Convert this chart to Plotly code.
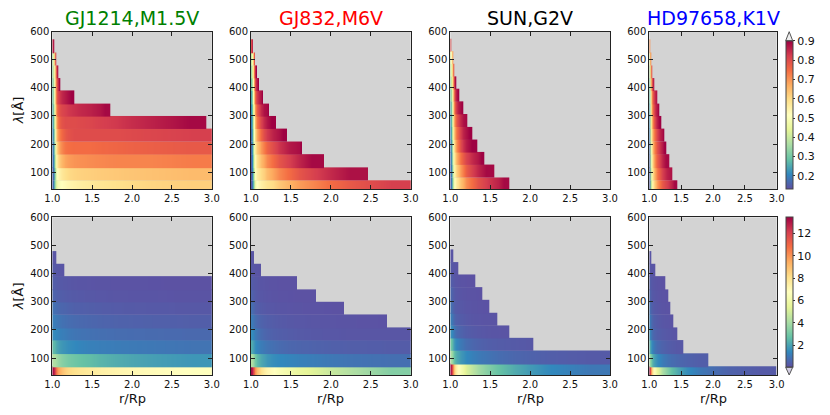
import plotly.graph_objects as go

# ---------------- data ----------------
R_KNOTS = [1.0, 1.01, 1.02, 1.035, 1.05, 1.08, 1.12, 1.2, 1.35, 1.6, 2.0, 2.5, 3.0]

EDGES_M = [40, 71, 117, 164, 209, 255, 300, 344, 391, 435, 480, 526, 573]
EDGES_SUN = [40, 81, 127, 172, 216, 261, 307, 352, 397, 441, 486, 531, 575]

STARS = ["GJ1214,M1.5V", "GJ832,M6V", "SUN,G2V", "HD97658,K1V"]
STAR_COLORS = ["#008000", "#ff0000", "#000000", "#0000ff"]
STAR_EDGES = [EDGES_M, EDGES_M, EDGES_SUN, EDGES_M]

# ---- top row (fraction, 0.13-0.9) : extent in r/Rp per wavelength band, values per r-cell
TOP_RMAX_GJ1214 = [3.0, 3.0, 3.0, 3.0, 3.0, 2.93, 1.727, 1.277, 1.105, 1.08, 1.05, 1.025]
TOP_VAL_GJ1214 = [
    [0.15, 0.25, 0.35, 0.42, 0.48, 0.51, 0.53, 0.55, 0.57, 0.59, 0.61, 0.62],
    [0.15, 0.22, 0.33, 0.45, 0.52, 0.56, 0.59, 0.61, 0.62, 0.63, 0.64, 0.65],
    [0.17, 0.25, 0.38, 0.50, 0.58, 0.64, 0.68, 0.70, 0.71, 0.72, 0.72, 0.73],
    [0.18, 0.27, 0.42, 0.55, 0.63, 0.70, 0.74, 0.75, 0.75, 0.76, 0.77, 0.78],
    [0.20, 0.30, 0.45, 0.60, 0.68, 0.74, 0.78, 0.80, 0.80, 0.80, 0.81, 0.82],
    [0.22, 0.35, 0.50, 0.63, 0.72, 0.78, 0.80, 0.80, 0.81, 0.83, 0.86, 0.89],
    [0.25, 0.40, 0.55, 0.68, 0.76, 0.80, 0.82, 0.84, 0.86, 0.89],
    [0.28, 0.45, 0.60, 0.72, 0.80, 0.84, 0.87, 0.90],
    [0.30, 0.45, 0.60, 0.72, 0.82, 0.90],
    [0.35, 0.48, 0.62, 0.75, 0.88],
    [0.38, 0.55, 0.75, 0.88],
    [0.85, 0.90, 0.90],
]
TOP_RMAX_GJ832 = [3.0, 2.461, 1.919, 1.643, 1.45, 1.317, 1.225, 1.155, 1.096, 1.07, 1.054, 1.02]
TOP_VAL_GJ832 = [
    [0.15, 0.22, 0.32, 0.42, 0.50, 0.54, 0.57, 0.60, 0.66, 0.72, 0.78, 0.82],
    [0.15, 0.24, 0.36, 0.47, 0.54, 0.58, 0.62, 0.68, 0.75, 0.82, 0.88],
    [0.16, 0.26, 0.40, 0.50, 0.56, 0.62, 0.68, 0.75, 0.82, 0.89],
    [0.17, 0.28, 0.42, 0.53, 0.60, 0.66, 0.73, 0.80, 0.87, 0.90],
    [0.18, 0.30, 0.45, 0.56, 0.64, 0.72, 0.80, 0.86, 0.90],
    [0.20, 0.32, 0.48, 0.60, 0.70, 0.78, 0.85, 0.90],
    [0.22, 0.35, 0.52, 0.65, 0.74, 0.82, 0.88, 0.90],
    [0.25, 0.40, 0.58, 0.70, 0.80, 0.86, 0.90],
    [0.30, 0.45, 0.62, 0.75, 0.85, 0.90],
    [0.35, 0.50, 0.68, 0.80, 0.90],
    [0.40, 0.55, 0.72, 0.85, 0.90],
    [0.80, 0.90],
]
TOP_RMAX_SUN = [1.743, 1.547, 1.426, 1.342, 1.271, 1.213, 1.163, 1.117, 1.075, 1.054, 1.042, 1.017]
TOP_VAL_SUN = [
    [0.15, 0.25, 0.38, 0.48, 0.54, 0.60, 0.67, 0.75, 0.83, 0.89],
    [0.16, 0.27, 0.42, 0.52, 0.58, 0.65, 0.73, 0.82, 0.89],
    [0.17, 0.30, 0.45, 0.55, 0.62, 0.70, 0.78, 0.85, 0.90],
    [0.18, 0.32, 0.48, 0.58, 0.66, 0.75, 0.84, 0.90],
    [0.20, 0.35, 0.52, 0.62, 0.70, 0.78, 0.86, 0.90],
    [0.22, 0.38, 0.55, 0.66, 0.74, 0.82, 0.88, 0.90],
    [0.25, 0.42, 0.58, 0.70, 0.80, 0.87, 0.90],
    [0.30, 0.46, 0.62, 0.74, 0.84, 0.90],
    [0.35, 0.52, 0.68, 0.80, 0.90],
    [0.40, 0.56, 0.72, 0.84, 0.90],
    [0.45, 0.60, 0.78, 0.90],
    [0.80, 0.90],
]
TOP_RMAX_HD97658 = [1.445, 1.361, 1.309, 1.272, 1.236, 1.194, 1.157, 1.126, 1.084, 1.052, 1.031, 1.021]
TOP_VAL_HD97658 = [
    [0.15, 0.25, 0.38, 0.50, 0.58, 0.66, 0.74, 0.82, 0.89],
    [0.16, 0.28, 0.42, 0.54, 0.62, 0.70, 0.78, 0.86, 0.90],
    [0.17, 0.30, 0.45, 0.56, 0.65, 0.74, 0.82, 0.89],
    [0.18, 0.32, 0.48, 0.58, 0.68, 0.76, 0.84, 0.90],
    [0.20, 0.35, 0.50, 0.62, 0.70, 0.78, 0.86, 0.90],
    [0.22, 0.38, 0.54, 0.65, 0.75, 0.84, 0.90],
    [0.25, 0.42, 0.58, 0.70, 0.78, 0.86, 0.90],
    [0.28, 0.45, 0.60, 0.72, 0.80, 0.87, 0.90],
    [0.32, 0.50, 0.66, 0.78, 0.87, 0.90],
    [0.38, 0.55, 0.72, 0.86, 0.90],
    [0.45, 0.62, 0.80, 0.90],
    [0.70, 0.85, 0.90],
]

# ---- bottom row (0-13.4)
BOT_RMAX_GJ1214 = [3.0, 3.0, 3.0, 3.0, 3.0, 3.0, 3.0, 3.0, 1.155, 1.054]
BOT_VAL_GJ1214 = [
    [13.2, 12.8, 12.0, 11.0, 10.0, 9.2, 8.5, 8.0, 7.6, 7.2, 6.9, 6.7],
    [4.2, 4.2, 4.1, 4.0, 3.8, 3.5, 3.2, 2.9, 2.6, 2.2, 1.9, 1.7],
    [2.6, 2.5, 2.4, 2.2, 2.0, 1.8, 1.6, 1.4, 1.2, 1.1, 1.0, 0.9],
    [1.5, 1.45, 1.4, 1.35, 1.3, 1.2, 1.1, 0.95, 0.85, 0.75, 0.7, 0.65],
    [1.2, 1.15, 1.1, 1.05, 1.0, 0.9, 0.8, 0.7, 0.6, 0.5, 0.45, 0.4],
    [0.9, 0.85, 0.8, 0.75, 0.7, 0.6, 0.55, 0.45, 0.4, 0.32, 0.28, 0.25],
    [0.6, 0.55, 0.5, 0.48, 0.45, 0.4, 0.35, 0.3, 0.25, 0.2, 0.18, 0.15],
    [0.4, 0.38, 0.36, 0.34, 0.3, 0.28, 0.25, 0.2, 0.17, 0.14, 0.12, 0.1],
    [0.3, 0.28, 0.26, 0.24, 0.22, 0.2, 0.18],
    [0.2, 0.2, 0.19, 0.18, 0.17],
]
BOT_RMAX_GJ832 = [3.0, 3.0, 3.0, 3.0, 2.708, 2.169, 1.81, 1.576, 1.12, 1.042]
BOT_VAL_GJ832 = [
    [13.2, 12.5, 11.5, 10.5, 9.5, 8.5, 7.5, 6.8, 6.0, 5.2, 4.2, 3.3],
    [4.2, 4.0, 3.6, 3.2, 2.8, 2.3, 1.9, 1.5, 1.3, 1.1, 0.9, 0.8],
    [2.2, 2.0, 1.8, 1.6, 1.4, 1.2, 1.0, 0.8, 0.6, 0.5, 0.4, 0.35],
    [1.5, 1.4, 1.3, 1.1, 1.0, 0.8, 0.6, 0.45, 0.35, 0.25, 0.2, 0.2],
    [1.1, 1.0, 0.9, 0.8, 0.7, 0.55, 0.45, 0.35, 0.25, 0.2, 0.15, 0.12],
    [0.8, 0.7, 0.6, 0.5, 0.42, 0.35, 0.28, 0.22, 0.17, 0.13, 0.1],
    [0.5, 0.45, 0.4, 0.35, 0.3, 0.25, 0.2, 0.16, 0.12, 0.1],
    [0.35, 0.32, 0.3, 0.27, 0.24, 0.2, 0.17, 0.13, 0.1],
    [0.25, 0.23, 0.21, 0.2, 0.18, 0.16],
    [0.2, 0.2, 0.18, 0.16],
]
BOT_RMAX_SUN = [3.0, 3.0, 2.04, 1.735, 1.589, 1.484, 1.397, 1.313, 1.096, 1.042]
BOT_VAL_SUN = [
    [13.2, 12.0, 10.5, 9.0, 7.8, 6.8, 5.8, 4.5, 3.3, 2.2, 1.4, 1.0],
    [4.2, 3.8, 3.3, 2.8, 2.4, 2.0, 1.6, 1.2, 0.9, 0.6, 0.4, 0.3],
    [3.0, 2.6, 2.2, 1.8, 1.5, 1.2, 0.9, 0.6, 0.4, 0.3, 0.2],
    [1.6, 1.4, 1.2, 1.0, 0.8, 0.6, 0.45, 0.3, 0.2, 0.15],
    [1.2, 1.0, 0.8, 0.65, 0.5, 0.4, 0.3, 0.2, 0.15],
    [0.9, 0.7, 0.55, 0.45, 0.35, 0.28, 0.22, 0.16, 0.12],
    [0.6, 0.5, 0.4, 0.32, 0.26, 0.2, 0.16, 0.13, 0.1],
    [0.4, 0.35, 0.3, 0.25, 0.2, 0.16, 0.13, 0.1],
    [0.3, 0.25, 0.22, 0.2, 0.18, 0.16],
    [0.2, 0.2, 0.18, 0.16],
]
BOT_RMAX_HD97658 = [3.0, 1.927, 1.534, 1.445, 1.372, 1.335, 1.298, 1.251, 1.1, 1.031]
BOT_VAL_HD97658 = [
    [13.2, 11.8, 10.0, 8.5, 7.2, 6.0, 4.8, 3.4, 2.0, 1.0, 0.5, 0.3],
    [4.0, 3.6, 3.1, 2.6, 2.1, 1.7, 1.3, 0.9, 0.6, 0.4],
    [2.5, 2.1, 1.7, 1.4, 1.1, 0.8, 0.6, 0.4, 0.25],
    [1.6, 1.3, 1.0, 0.8, 0.6, 0.45, 0.35, 0.25, 0.18],
    [1.2, 1.0, 0.8, 0.6, 0.45, 0.35, 0.25, 0.18, 0.14],
    [0.9, 0.7, 0.55, 0.42, 0.32, 0.25, 0.18, 0.14],
    [0.6, 0.5, 0.4, 0.3, 0.25, 0.2, 0.15, 0.12],
    [0.45, 0.38, 0.3, 0.25, 0.2, 0.16, 0.13, 0.1],
    [0.3, 0.25, 0.22, 0.2, 0.17, 0.15],
    [0.2, 0.2, 0.18],
]

TOP_RMAX = [TOP_RMAX_GJ1214, TOP_RMAX_GJ832, TOP_RMAX_SUN, TOP_RMAX_HD97658]
TOP_VAL = [TOP_VAL_GJ1214, TOP_VAL_GJ832, TOP_VAL_SUN, TOP_VAL_HD97658]
BOT_RMAX = [BOT_RMAX_GJ1214, BOT_RMAX_GJ832, BOT_RMAX_SUN, BOT_RMAX_HD97658]
BOT_VAL = [BOT_VAL_GJ1214, BOT_VAL_GJ832, BOT_VAL_SUN, BOT_VAL_HD97658]

X_TICKS = [1.0, 1.5, 2.0, 2.5, 3.0]
Y_TICKS = [100, 200, 300, 400, 500, 600]
TOP_CB_TICKS = [0.2, 0.3, 0.4, 0.5, 0.6, 0.7, 0.8, 0.9]
BOT_CB_TICKS = [2, 4, 6, 8, 10, 12]

SPECTRAL = ['#9e0142', '#d53e4f', '#f46d43', '#fdae61', '#fee08b', '#ffffbf',
            '#e6f598', '#abdda4', '#66c2a5', '#3288bd', '#5e4fa2']
SPECTRAL_R = [[i / 10, c] for i, c in enumerate(SPECTRAL[::-1])]

# ---------------- layout geometry ----------------
W, H = 830, 415
X_DOM_PX = [(52.3, 211.8), (251.0, 410.7), (450.3, 610.0), (649.3, 776.7)]
Y_DOM_PX = [(31.7, 189.0), (217.3, 375.0)]
FONT = "DejaVu Sans"
SEAM_OVERLAP = 2.0  # small downward overlap of each band image to hide raster seams

fig = go.Figure()


def ax_id(row, col):
    i = row * 4 + col + 1
    return ("" if i == 1 else str(i))


for row in range(2):
    rmax_all = TOP_RMAX if row == 0 else BOT_RMAX
    val_all = TOP_VAL if row == 0 else BOT_VAL
    cax = "coloraxis" if row == 0 else "coloraxis2"
    for col in range(4):
        sid = ax_id(row, col)
        edges = STAR_EDGES[col]
        for b, (rmax, vals) in enumerate(zip(rmax_all[col], val_all[col])):
            xe = [k for k in R_KNOTS if k < rmax] + [rmax]
            n = len(xe) - 1
            y0 = edges[b] - (SEAM_OVERLAP if b > 0 else 0)
            fig.add_trace(go.Heatmap(
                x=xe, y=[y0, edges[b + 1]], z=[vals[:n]],
                zsmooth="best", coloraxis=cax, hoverinfo="skip",
                xaxis="x" + sid, yaxis="y" + sid,
            ))

axis_common = dict(showline=True, linecolor="#222", linewidth=1, mirror="ticks",
                   ticks="inside", ticklen=4, tickcolor="#222", showgrid=False,
                   zeroline=False, automargin=False,
                   tickfont=dict(size=10, color="#111", family=FONT))

layout = dict(
    width=W, height=H, margin=dict(l=0, r=0, t=0, b=0, autoexpand=False),
    paper_bgcolor="white", plot_bgcolor="#d3d3d3", showlegend=False,
    font=dict(family=FONT, color="#111"),
)
for row in range(2):
    for col in range(4):
        sid = ax_id(row, col)
        x0, x1 = X_DOM_PX[col]
        ya, yb = Y_DOM_PX[row]
        layout["xaxis" + sid] = dict(axis_common, domain=[x0 / W, x1 / W], anchor="y" + sid,
                                     range=[1.0, 3.0], tickvals=X_TICKS, tickformat=".1f")
        layout["yaxis" + sid] = dict(axis_common, domain=[1 - yb / H, 1 - ya / H], anchor="x" + sid,
                                     range=[40, 600], tickvals=Y_TICKS)

cb_x = 785.7 / W
cb_common = dict(x=cb_x, xanchor="left", thickness=7, thicknessmode="pixels", lenmode="fraction",
                 xpad=0, ypad=0, outlinewidth=1, outlinecolor="#444", ticks="outside",
                 ticklen=2, tickcolor="#333", tickfont=dict(size=11, family=FONT, color="#111"),
                 yanchor="middle")
layout["coloraxis"] = dict(colorscale=SPECTRAL_R, cmin=0.133, cmax=0.9,
                           colorbar=dict(cb_common, y=1 - (40.7 + 189.0) / 2 / H, len=(189.0 - 40.7) / H,
                                         tickvals=TOP_CB_TICKS, tickformat=".1f"))
layout["coloraxis2"] = dict(colorscale=SPECTRAL_R, cmin=0.04, cmax=13.43,
                            colorbar=dict(cb_common, y=1 - (217.3 + 367.3) / 2 / H, len=(367.3 - 217.3) / H,
                                          tickvals=BOT_CB_TICKS))

annotations = []
for col in range(4):
    x0, x1 = X_DOM_PX[col]
    annotations.append(dict(text=STARS[col], x=(x0 + x1) / 2 / W, y=1 - 18 / H, xref="paper", yref="paper",
                            xanchor="center", yanchor="middle", showarrow=False,
                            font=dict(size=19, color=STAR_COLORS[col], family=FONT)))
    annotations.append(dict(text="r/Rp", x=(x0 + x1) / 2 / W, y=1 - 398 / H, xref="paper", yref="paper",
                            xanchor="center", yanchor="middle", showarrow=False,
                            font=dict(size=13, color="#111", family=FONT)))
for row in range(2):
    ya, yb = Y_DOM_PX[row]
    annotations.append(dict(text="<i>λ</i>[Å]", x=18 / W, y=1 - (ya + yb) / 2 / H, xref="paper", yref="paper",
                            xanchor="center", yanchor="middle", showarrow=False, textangle=-90,
                            font=dict(size=13, color="#111", family=FONT)))
layout["annotations"] = annotations

cx0, cx1 = 785.7 / W, 792.7 / W
cxm = (cx0 + cx1) / 2
layout["shapes"] = [
    dict(type="path", xref="paper", yref="paper",
         path=f"M {cx0},{1 - 40.7 / H} L {cx1},{1 - 40.7 / H} L {cxm},{1 - 31.7 / H} Z",
         fillcolor="#eeeeee", line=dict(color="#555", width=1)),
    dict(type="path", xref="paper", yref="paper",
         path=f"M {cx0},{1 - 367.3 / H} L {cx1},{1 - 367.3 / H} L {cxm},{1 - 375.0 / H} Z",
         fillcolor="#d4cfe4", line=dict(color="#555", width=1)),
]

fig.update_layout(**layout)
fig.write_html("out.html", config={"displayModeBar": False},
               post_script="document.body.style.margin='0px';document.body.style.padding='0px';")
